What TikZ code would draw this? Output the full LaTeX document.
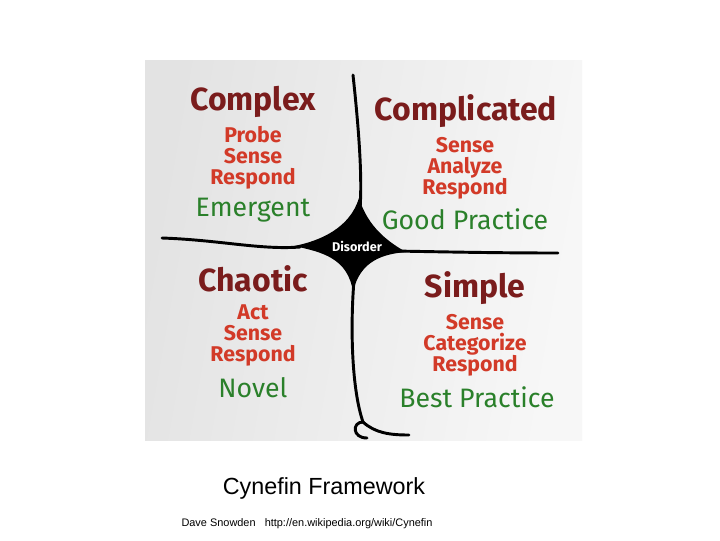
\documentclass[tikz,border=0pt]{standalone}
\usepackage{fontspec}
\setmainfont{Fira Sans}
\newfontfamily\captionfont{Liberation Sans}
\usepackage{xcolor}
\definecolor{domainred}{RGB}{122,28,28}
\definecolor{actred}{RGB}{210,58,40}
\definecolor{practicegreen}{RGB}{42,128,42}
\tikzset{
  domainname/.style={text=domainred, font=\fontsize{24}{26}\selectfont\bfseries, inner sep=0pt},
  steps/.style={text=actred, font=\fontsize{16}{15.75}\selectfont\bfseries, align=center, inner sep=0pt},
  practice/.style={text=practicegreen, font=\fontsize{20}{22}\selectfont, inner sep=0pt},
  boundary/.style={line width=2.2pt, line cap=round}
}
\begin{document}
\begin{tikzpicture}[x=0.75pt, y=-0.75pt]
	% Page and framed panel:
	\useasboundingbox (0,0) rectangle (720,540);
	\fill[white] (0,0) rectangle (720,540);
	\shade[left color=black!11, right color=black!3, shading angle=80] (145,60) rectangle (582,440);
	% Boundaries and the centre:
	\fill (359,198) .. controls (350,228) and (320,241) .. (294,246) .. controls (322,252) and (348,258) .. (353,292) .. controls (360,260) and (384,254) .. (406,252) .. controls (390,243) and (368,228) .. (359,198) -- cycle;
	\draw[boundary] (353,75) .. controls (360,140) and (362,180) .. (360,210);
	\draw[boundary] (162,238) .. controls (220,240) and (260,250) .. (300,247);
	\draw[boundary] (395,251) .. controls (450,252) and (500,253) .. (558,253);
	\draw[boundary] (354,280) .. controls (350,330) and (352,390) .. (363,422);
	\draw[boundary] (363,422) .. controls (375,433) and (390,435) .. (409,435);
	\draw[boundary] (363,422) .. controls (352,422) and (352,438) .. (367,438);
	\node[text=white, font=\fontsize{9.5}{10}\selectfont\bfseries, inner sep=0pt] (disorder) at (357,246) {Disorder};
	% Complex:
	\node[domainname] (complex) at (253,102) {Complex};
	\node[steps] (complexsteps) at (253,158) {Probe\\Sense\\Respond};
	\node[practice] (emergent) at (253,210) {Emergent};
	% Complicated:
	\node[domainname] (complicated) at (466,111) {Complicated};
	\node[steps] (complicatedsteps) at (465,168) {Sense\\Analyze\\Respond};
	\node[practice] (good) at (465,219) {Good Practice};
	% Chaotic:
	\node[domainname] (chaotic) at (253,279) {Chaotic};
	\node[steps] (chaoticsteps) at (253,335) {Act\\Sense\\Respond};
	\node[practice] (novel) at (253,388) {Novel};
	% Simple:
	\node[domainname] (simple) at (475,288) {Simple};
	\node[steps] (simplesteps) at (475,345) {Sense\\Categorize\\Respond};
	\node[practice] (best) at (477,397) {Best Practice};
	% Caption:
	\node[font=\captionfont\fontsize{17.5}{20}\selectfont, inner sep=0pt] (title) at (324,488) {Cynefin Framework};
	\node[font=\captionfont\fontsize{8.2}{9}\selectfont, inner sep=0pt] (credit) at (307,524) {Dave Snowden\ \ \ http://en.wikipedia.org/wiki/Cynefin};
\end{tikzpicture}
\end{document}
